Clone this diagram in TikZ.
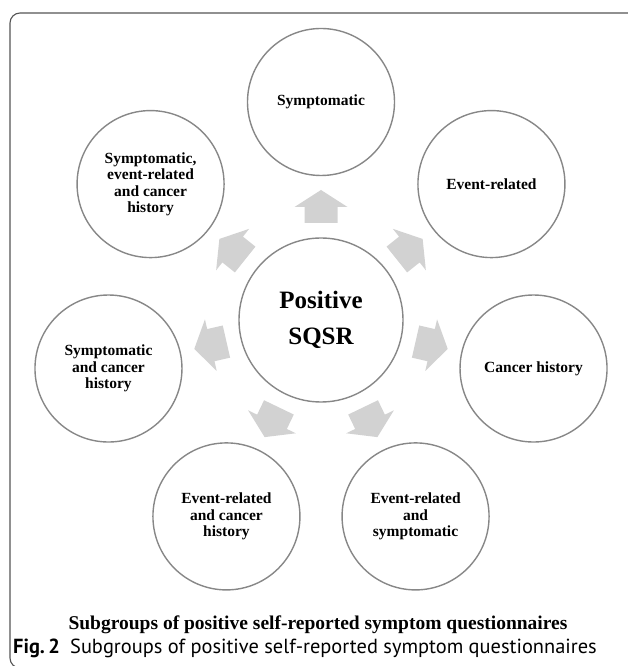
\documentclass[tikz,border=0pt]{standalone}
\usepackage{fontspec}
\setmainfont{Liberation Serif}
\newfontfamily\capfont{PT Sans}
\usetikzlibrary{calc}
\definecolor{ring}{RGB}{135,135,135}
\definecolor{arrowfill}{RGB}{210,210,210}
\definecolor{framec}{RGB}{85,85,85}
\tikzset{
  bub/.style={circle, draw=ring, line width=1.4pt, minimum size=147pt, inner sep=0pt,
    align=center, font=\fontsize{15.5}{16.5}\selectfont\bfseries},
  hub/.style={circle, draw=ring, line width=1.4pt, minimum size=164pt, inner sep=0pt,
    align=center, font=\fontsize{25}{36}\selectfont\bfseries},
  blockarrow/.style={fill=arrowfill}
}
\begin{document}
\begin{tikzpicture}[x=1pt,y=1pt]
\useasboundingbox (0,0) rectangle (627,666);
\draw[framec, line width=1.1pt, rounded corners=10pt] (10,-2) rectangle (650,653);
\coordinate (C) at (321,346);
\node[hub] (hub) at (C) {Positive\\SQSR};
\node[bub] (n1) at ($(C)+(90:218)$) {Symptomatic};
\node[bub] (n2) at ($(C)+(38.57:218)$) {Event-related};
\node[bub] (n3) at ($(C)+(-12.86:218)$) {Cancer history};
\node[bub] (n4) at ($(C)+(-64.29:218)$) {Event-related\\and\\symptomatic};
\node[bub] (n5) at ($(C)+(-115.71:218)$) {Event-related\\and cancer\\history};
\node[bub] (n6) at ($(C)+(-167.14:218)$) {Symptomatic\\and cancer\\history};
\node[bub] (n7) at ($(C)+(141.43:218)$) {Symptomatic,\\event-related\\and cancer\\history};
\foreach \a in {90,38.57,-12.86,-64.29,-115.71,-167.14,141.43}{
  \fill[blockarrow, shift={(C)}, rotate=\a-90]
    (-16.5,97) -- (16.5,97) -- (16.5,113) -- (26.5,113) -- (0,130) -- (-26.5,113) -- (-16.5,113) -- cycle;
}
\node[font=\fontsize{19.5}{22}\selectfont\bfseries] (title) at (318,41) {Subgroups of positive self-reported symptom questionnaires};
\node[anchor=west, inner sep=0pt, font=\capfont\fontsize{20.4}{24}\selectfont] (fig) at (13,18) {\textbf{Fig.\,2}\enskip Subgroups of positive self-reported symptom questionnaires};
\end{tikzpicture}
\end{document}
